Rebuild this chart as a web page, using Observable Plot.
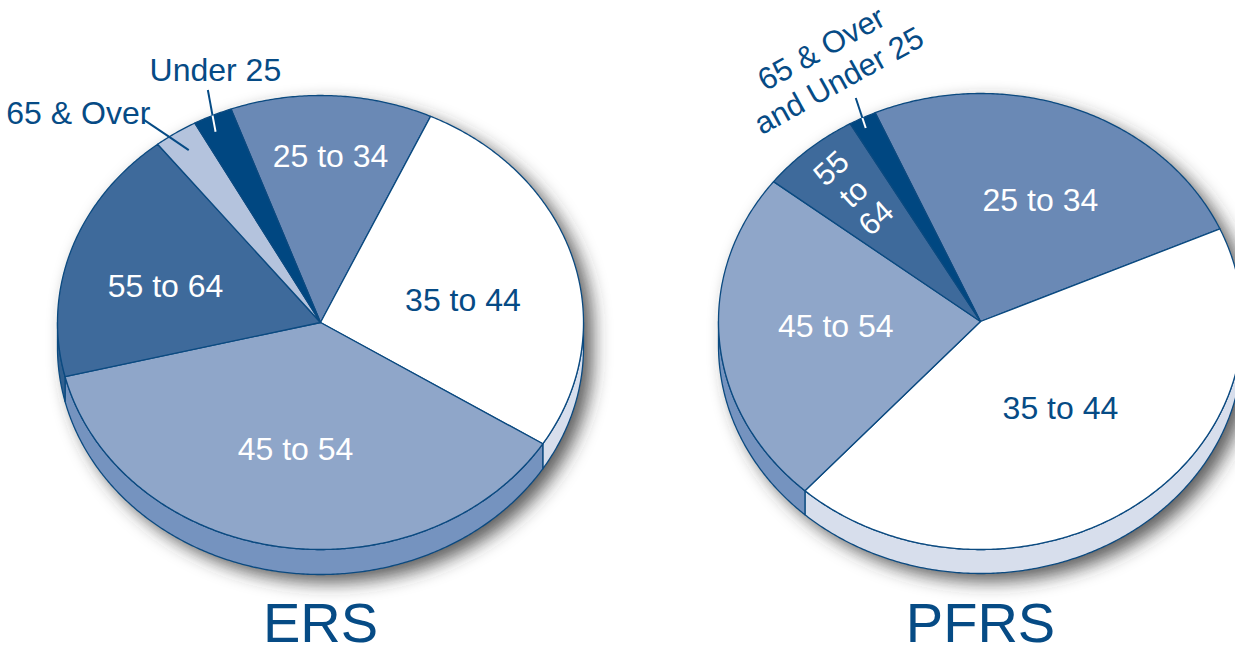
<!DOCTYPE html>
<html><head><meta charset="utf-8">
<script src="https://cdn.jsdelivr.net/npm/d3@7"></script>
<script src="https://cdn.jsdelivr.net/npm/@observablehq/plot@0.6"></script>
<style>html,body{margin:0;padding:0;background:#fff;overflow:hidden}</style>
</head><body><div id="chart"></div>
<script>
// ---- DATA (percent of members by age group) ----
const ersCategories = ["25 to 34", "35 to 44", "45 to 54", "55 to 64", "65 & Over", "Under 25"];
const ersValues     = [12.4, 27.1, 37.2, 18.2, 2.7, 2.4];
const pfrsCategories = ["25 to 34", "35 to 44", "45 to 54", "55 to 64", "65 & Over and Under 25"];
const pfrsValues     = [24.9, 43.3, 23.8, 6.2, 1.7];
const pieTitles = ["ERS", "PFRS"];

// ---- STYLE ----
const outline = "#0b4a80";
const darkText = "#064b85";
const topColor = {
  "25 to 34": "#6a89b5", "35 to 44": "#ffffff", "45 to 54": "#8fa6c9",
  "55 to 64": "#3e6a9b", "65 & Over": "#b4c3dd", "Under 25": "#004781",
  "65 & Over and Under 25": "#004781"
};
const sideColor = {
  "25 to 34": "#5c7aa6", "35 to 44": "#d7deec", "45 to 54": "#7593bf",
  "55 to 64": "#32608f", "65 & Over": "#a3b3d0", "Under 25": "#003c6e",
  "65 & Over and Under 25": "#003c6e"
};

// ---- LAYOUT ----
const geom = {
  ERS:  {cx: 320, cy: 322, rx: 263, ry: 227, depth: 25, start: -19.9},
  PFRS: {cx: 980, cy: 321, rx: 262, ry: 228, depth: 24, start: -23.7}
};
// label placement: [angle (deg, clockwise from top), radius fraction, text colour, rotate]
const labelLayout = {
  ERS: {
    "25 to 34": [3, 0.73, "#fff", 0], "35 to 44": [80, 0.55, darkText, 0],
    "45 to 54": [189.6, 0.57, "#fff", 0], "55 to 64": [285, 0.61, "#fff", 0],
    "65 & Over": [-45.1, 1.3, darkText, 0], "Under 25": [-19.8, 1.18, darkText, 0]
  },
  PFRS: {
    "25 to 34": [23.3, 0.578, "#fff", 0], "35 to 44": [141.4, 0.489, darkText, 0],
    "45 to 54": [267.7, 0.553, "#fff", 0]
  }
};
const multiLabels = [
  {pie: "PFRS", text: "55\nto\n64", angle: -40.7, r: 0.744, color: "#fff", rotate: -42, lh: 1.08},
  {pie: "PFRS", text: "65 & Over\nand Under 25", angle: -27, r: 1.27, color: darkText, rotate: -29, lh: 1.18}
];
// leader lines: [pie, outer angle, outer r, inner angle, inner r, colour inside pie]
const leaderLayout = [
  ["ERS", -22.7, 1.11, -25.4, 0.93, "#fff"],
  ["ERS", -37.0, 1.12, -33.4, 0.91, darkText],
  ["PFRS", -25.9, 1.09, -27.3, 0.955, "#fff"]
];

const rad = Math.PI / 180;
function pt(g, a, r, dy = 0) { // a in radians
  return {x: g.cx + r * g.rx * Math.sin(a), y: g.cy - r * g.ry * Math.cos(a) + dy};
}
function arc(g, a0, a1, r, dy) {
  const n = Math.max(2, Math.ceil(Math.abs(a1 - a0) / (0.5 * rad)));
  return d3.range(n + 1).map(i => pt(g, a0 + (a1 - a0) * i / n, r, dy));
}

const topPts = [], sidePts = [], shadowPts = [], labels = [], leaders = [];
[["ERS", ersCategories, ersValues], ["PFRS", pfrsCategories, pfrsValues]].forEach(([name, cats, vals]) => {
  const g = geom[name];
  const s = g.start * rad;
  const arcs = d3.pie().sort(null).startAngle(s).endAngle(s + 2 * Math.PI)(vals);
  // shadow outline
  [...arc(g, -Math.PI / 2, Math.PI / 2, 1, 0), ...arc(g, Math.PI / 2, 1.5 * Math.PI, 1, g.depth)]
    .forEach(p => shadowPts.push({pie: name, x: p.x + 9, y: p.y + 8}));
  arcs.forEach((a, i) => {
    const cat = cats[i], key = name + "|" + cat;
    [{x: g.cx, y: g.cy}, ...arc(g, a.startAngle, a.endAngle, 1, 0)]
      .forEach(p => topPts.push({key, x: p.x, y: p.y, fill: topColor[cat]}));
    const lo = Math.max(a.startAngle, Math.PI / 2), hi = Math.min(a.endAngle, 1.5 * Math.PI);
    if (hi > lo) {
      [...arc(g, lo, hi, 1, 0), ...arc(g, hi, lo, 1, g.depth)]
        .forEach(p => sidePts.push({key, x: p.x, y: p.y, fill: sideColor[cat]}));
    }
    const L = (labelLayout[name] || {})[cat];
    if (L) {
      const p = pt(g, L[0] * rad, L[1]);
      labels.push({x: p.x, y: p.y, text: cat, color: L[2], rotate: L[3]});
    }
  });
});
leaderLayout.forEach(([name, ao, ro, ai, ri, inColor]) => {
  const g = geom[name];
  const o = pt(g, ao * rad, ro), i = pt(g, ai * rad, ri);
  const t = (ro - 1) / (ro - ri);
  const m = {x: o.x + (i.x - o.x) * t, y: o.y + (i.y - o.y) * t};
  leaders.push({x1: o.x, y1: o.y, x2: m.x, y2: m.y, color: darkText});
  leaders.push({x1: m.x, y1: m.y, x2: i.x, y2: i.y, color: inColor});
});
const multi = multiLabels.map(d => ({...d, ...pt(geom[d.pie], d.angle * rad, d.r)}));
const titles = pieTitles.map(t => ({text: t, x: geom[t].cx, y: geom[t].cy + geom[t].ry + 75}));

const font = "Liberation Sans, Arial, Helvetica, sans-serif";
const svg = Plot.plot({
  width: 1235, height: 654, margin: 0,
  x: {domain: [0, 1235], range: [0, 1235], axis: null},
  y: {domain: [0, 654], range: [0, 654], axis: null},
  color: {type: "identity"},
  style: {background: "#fff"},
  marks: [
    Plot.line(shadowPts, {x: "x", y: "y", z: "pie", fill: "#333", fillOpacity: 0.8, stroke: null, curve: "linear-closed"}),
    Plot.line(sidePts, {x: "x", y: "y", z: "key", fill: "fill", stroke: outline, strokeWidth: 1.3, strokeLinejoin: "round", curve: "linear-closed"}),
    Plot.line(topPts, {x: "x", y: "y", z: "key", fill: "fill", stroke: outline, strokeWidth: 1.3, strokeLinejoin: "round", curve: "linear-closed"}),
    Plot.link(leaders, {x1: "x1", y1: "y1", x2: "x2", y2: "y2", stroke: "color", strokeWidth: 2}),
    Plot.text(labels, {x: "x", y: "y", text: "text", fill: "color", rotate: "rotate", fontSize: 32, fontFamily: font}),
    Plot.text(multi.filter(d => d.lh < 1.15), {x: "x", y: "y", text: "text", fill: "color", rotate: "rotate", fontSize: 31, lineHeight: 1.08, fontFamily: font}),
    Plot.text(multi.filter(d => d.lh >= 1.15), {x: "x", y: "y", text: "text", fill: "color", rotate: "rotate", fontSize: 31, lineHeight: 1.18, fontFamily: font}),
    Plot.text(titles, {x: "x", y: "y", text: "text", fill: darkText, fontSize: 56, fontFamily: font})
  ]
});
// soft drop shadow behind the pies
const ns = "http://www.w3.org/2000/svg";
const defs = document.createElementNS(ns, "defs");
defs.innerHTML = '<filter id="pieShadow" x="-30%" y="-30%" width="160%" height="160%"><feGaussianBlur stdDeviation="9"/></filter>';
svg.insertBefore(defs, svg.firstChild);
const lineGroups = svg.querySelectorAll('g[aria-label="line"]');
if (lineGroups.length) lineGroups[0].setAttribute("filter", "url(#pieShadow)");
document.getElementById("chart").appendChild(svg);
</script>
</body></html>
